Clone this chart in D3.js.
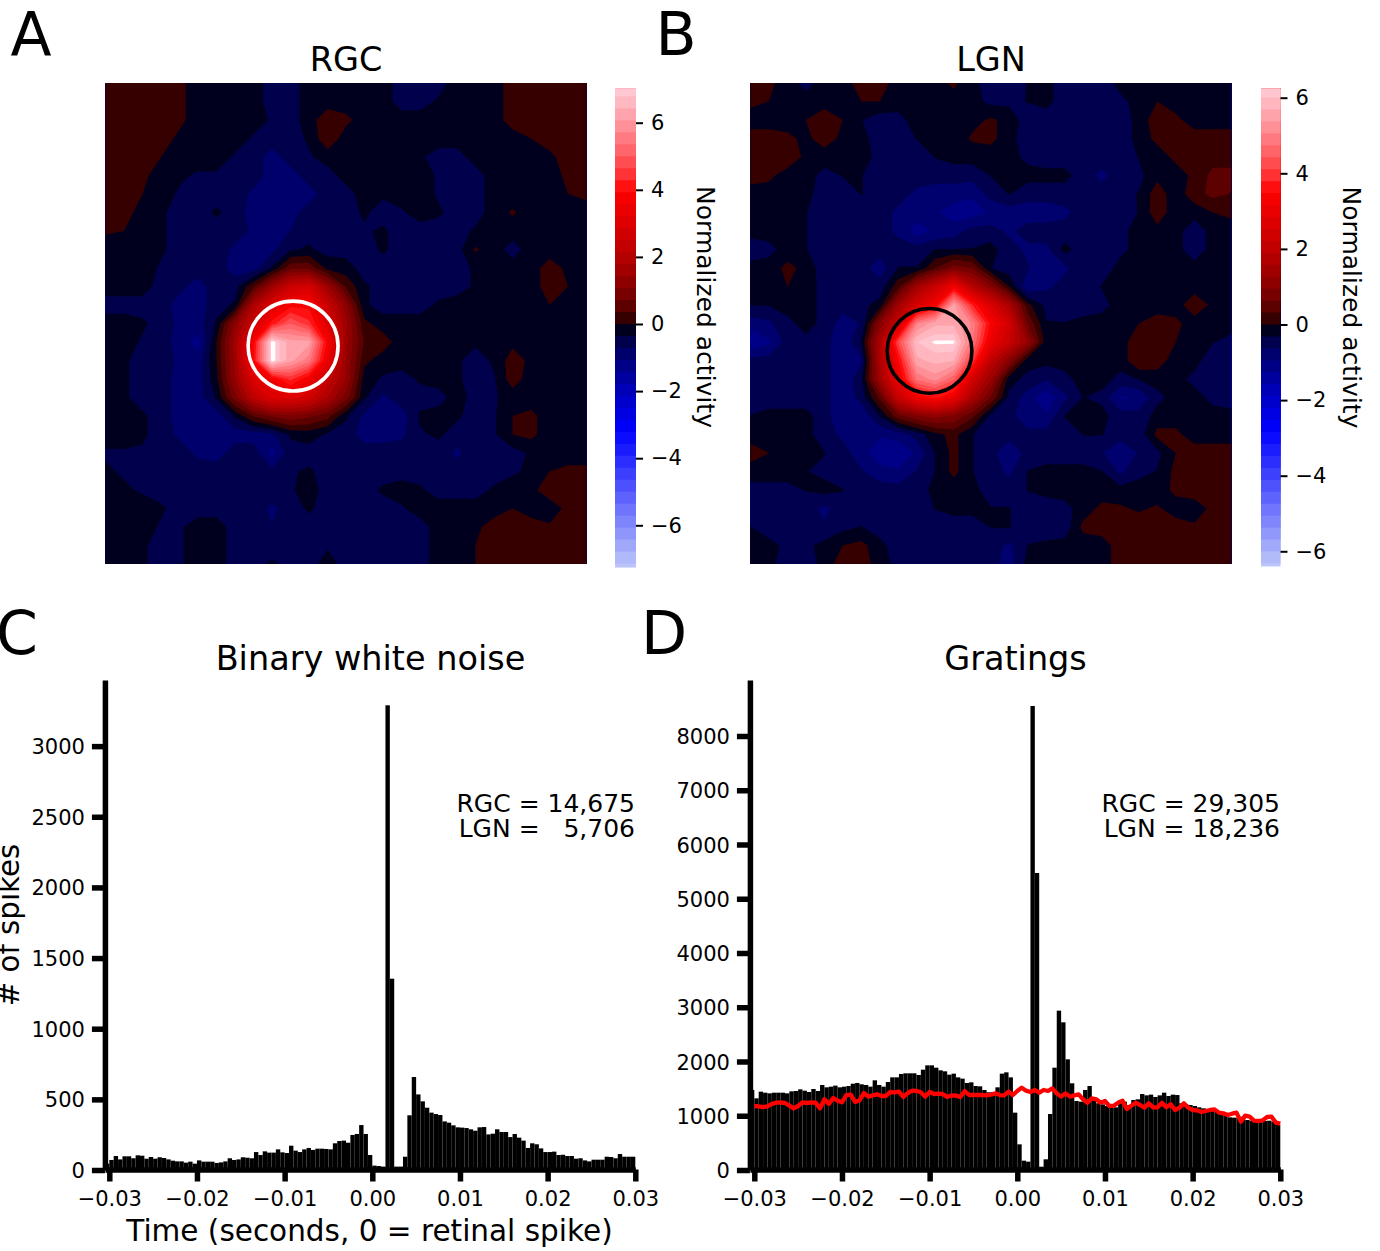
<!DOCTYPE html>
<html><head><meta charset="utf-8">
<script src="https://cdn.jsdelivr.net/npm/d3@7"></script>
<style>
html,body{margin:0;padding:0;background:#fff}
svg{display:block}
text{font-family:"DejaVu Sans",sans-serif;fill:#000}
</style></head><body><svg id="c" width="1380" height="1251"></svg>
<script>
// Activity maps: values in tenths of a normalized-activity unit
const rgcMap=[
[2,2,2,2,1,-2,-2,-2,-2,-5,-5,-2,-2,-2,-2,-2,-5,-5,-5,-2,-2,-2,2,2,2,2,2],
[2,2,2,2,1,-2,-2,-2,-2,-5,-5,-2,-2,-2,-2,-2,-5,-5,-3,-2,-2,-2,2,2,2,2,2],
[2,2,2,2,1,-2,-2,-2,-2,-4,-5,-2,3,1,-2,-2,-2,-2,-2,-2,-2,-2,2,2,2,2,2],
[2,2,2,2,-1,-2,-2,-2,-4,-5,-5,-3,3,-2,-2,-2,-2,-2,-2,-2,-2,-2,-2,0,2,2,2],
[2,2,2,0,-2,-2,-2,-4,-5,-9,-5,-4,-2,-2,-3,-2,-2,-3,-5,-5,-2,-2,-2,-2,-1,2,2],
[2,2,1,-2,-3,-4,-4,-5,-5,-9,-9,-5,-5,-2,-2,-2,-2,-2,-4,-5,-5,-2,-2,-2,-2,1,2],
[2,2,0,-2,-4,-5,-5,-5,-8,-9,-9,-9,-5,-5,-2,-3,-2,-2,-4,-5,-5,-2,-2,-2,-2,0,1],
[2,2,-2,-3,-5,-5,-3,-5,-9,-9,-9,-5,-5,-5,-3,-5,-4,-2,-3,-5,-5,-2,.5,-2,-2,-2,-2],
[.5,0,-2,-3,-5,-5,-5,-5,-8,-9,-7,-5,-5,-5,-4,-3,-5,-5,-5,-5,-3,-2,-2,-2,-2,-2,-2],
[-2,-2,-2,-3,-5,-5,-5,-8,-9,-8,-4,-3,-5,-5,-5,-3,-5,-5,-5,-5,.5,-2,-5,-2,-2,-2,-2],
[-2,-2,-2,-4,-5,-5,-5,-9,-9,-3,6,6,-1,-2,-5,-5,-5,-5,-5,-5,-3,-2,-2,-2,2,-1,-2],
[-2,-2,-2,-5,-6,-9,-5,-5,3,15,25,28,15,3,-3,-5,-5,-5,-5,-5,-3,-2,-2,-2,2,0,-2],
[-5,-5,-5,-5,-9,-9,-5,-3,18,30,38,38,25,12,-3,-5,-5,-5,-3,-2,-2,-2,-2,-2,0,-2,-2],
[-2,-2,-3,-5,-8,-9,-3,12,25,41,50,44,30,15,1,-2,-2,-2,-2,-2,-2,-2,-2,-2,-2,-2,-2],
[-2,-2,-4,-5,-9,-12,0,16,38,72,62,62,38,15,3,2,-2,-2,-2,-2,-3,-2,-1,-2,-2,-2,-2],
[-2,-3,-5,-5,-8,-9,0,15,39,72,62,55,34,14,1,-2,-2,-2,-2,-3,-5,-3,2,-1,-2,-2,-2],
[-2,-3,-5,-5,-9,-9,-1,14,30,36,44,36,24,14,-2,-4,-5,-3,-2,-3,-5,-4,2,-2,-2,-2,-2],
[-2,-3,-5,-5,-9,-9,-3,9,22,30,30,27,18,9,-3,-8,-5,-5,-5,-2,-5,-4,-2,-2,-2,-2,-2],
[-2,-2,-3,-5,-9,-9,-9,-3,4,8,10,8,5,-3,-8,-9,-9,-3,-2,-3,-5,-4,0,1,-2,-2,-2],
[-2,-2,-3,-5,-8,-9,-9,-9,-9,-8,-3,-2,-4,-5,-9,-9,-8,-4,-3,-5,-5,-4,0,1,-2,-2,-2],
[-4,-4,-4,-5,-5,-8,-9,-5,-5,-12,-5,-5,-5,-5,-5,-5,-5,-5,-5,-8,-5,-5,-5,-3,-2,-2,-2],
[-3,-4,-5,-5,-5,-5,-5,-5,-5,-6,-4,-3,-5,-5,-5,-5,-5,-5,-5,-5,-5,-5,-4,-3,0,1,1],
[-2,-3,-4,-5,-5,-5,-5,-5,-5,-5,-4,-2,-5,-5,-5,-3,-2,-3,-5,-5,-5,-3,-2,-1,2,2,2],
[-2,-2,-2,-3,-5,-5,-5,-5,-5,-8,-5,-3,-5,-5,-5,-5,-4,-2,-2,-2,-2,-2,0,-2,-2,1,2],
[-2,-2,-2,-4,-4,-2,-2,-5,-5,-7,-5,-5,-5,-5,-5,-5,-5,-5,-2,-2,-1,2,2,2,.5,2,2],
[-2,-2,-3,-5,-4,-2,-2,-5,-5,-5,-5,-5,-4,-5,-5,-5,-5,-5,-2,-2,0,2,2,2,2,2,2],
[-2,-2,-3,-5,-4,-2,-2,-5,-5,-3,-5,-5,-2,-5,-5,-5,-5,-5,-2,-2,0,2,2,2,2,2,2]];
const lgnMap=[
[2,1,-2,-4,-2,-2,2,2,-2,-2,-1,.5,-2,-5,-5,-3,-2,-5,-5,-5,-2,-2,-2,-2,-2,-2,-2],
[1,0,-2,-2,-2,-2,0,0,-2,-2,-2,-1,-2,-4,-4,-3,-2,-5,-5,-5,-4,-2,0,-2,-2,-2,-2],
[-2,-2,-2,0,3,0,-3,-5,-4,-2,-2,-2,-1,.5,-1,-5,-5,-5,-5,-5,-5,-2,2,1,-2,-2,-2],
[2,2,1,-1,2,-1,-2,-5,-5,-3,-2,-2,.5,1,-2,-5,-5,-5,-5,-5,-5,-2,1,2,2,2,2],
[2,2,3,-1,-2,-2,-2,-4,-5,-5,-3,-2,-2,-2,-2,-4,-5,-5,-5,-5,-5,-3,-2,1,2,2,2],
[2,1,-2,-2,-4,-3,-3,-5,-5,-5,-5,-5,-5,-3,-2,-2,-2,-2,-5,-7,-5,-4,-1,-2,1,4,4],
[-2,-2,-2,-2,-5,-5,-3,-5,-5,-7,-8,-8,-9,-5,-3,-5,-5,-5,-5,-5,-4,-3,2,-2,2,4,3],
[-2,-2,-2,-3,-5,-5,-5,-5,-7,-8,-9,-11,-11,-9,-8,-8,-8,-7,-5,-5,-5,-3,2,-2,-2,0,1],
[-2,-2,-2,-3,-5,-5,-5,-5,-7,-11,-9,-8,-5,-5,-7,-5,-5,-5,-5,-5,-4,-2,-1,-2,-5,-2,-2],
[-5,-4,-2,-3,-5,-5,-5,-5,-5,-5,-3,-3,-3,-2,-5,-7,-7,-2,-5,-5,-4,-2,-2,-2,-5,-2,-2],
[-2,-2,1,-1,-5,-5,-5,-8,-3,-3,3,8,6,-3,-5,-6,-9,-7,-4,-5,-2,-2,-2,-2,-2,-2,-2],
[-3,-3,0,-2,-4,-5,-5,-5,2,14,22,32,18,10,0,-9,-7,-5,-4,-3,-2,-2,-2,-2,-2,-2,-2],
[-3,-3,-2,-2,-4,-5,-4,-2,14,25,33,55,38,26,16,1,-4,-5,-5,-4,-2,-2,-2,-2,3,-1,-2],
[-8,-7,-4,-2,-4,-8,-6,10,22,50,56,56,50,34,24,6,-3,-3,-2,-2,-2,0,2,1,-2,-2,-2],
[-13,-10,-5,-4,-5,-9,-3,16,42,60,63,63,48,30,22,12,-2,-2,-2,-2,-2,3,3,0,-2,-3,-4],
[-5,-5,-5,-5,-5,-9,-7,16,34,56,58,57,40,20,10,-2,-2,-2,-2,-2,-2,3,2,-2,-2,-5,-5],
[-5,-5,-5,-5,-5,-9,-4,14,30,48,52,45,24,13,-2,-4,-6,-4,-2,-2,-4,-3,-2,-2,-4,-5,-5],
[-5,-5,-5,-5,-5,-9,-5,4,22,32,36,30,16,6,-4,-8,-12,-7,-3,-4,-10,-9,-4,-2,-2,-4,-5],
[-3,-2,-2,-2,-5,-9,-9,-3,5,9,11,9,4,-4,-5,-9,-9,-3,-2,-2,-5,-5,-2,-2,-2,-2,-2],
[-2,-2,-2,-2,-5,-7,-9,-9,-8,-5,-1,1,-3,-5,-5,-5,-5,-5,-3,-3,-5,-5,1,1,-2,-2,-2],
[2,0,-2,-2,-3,-5,-8,-12,-12,-9,-3,1,-3,-5,-9,-5,-5,-5,-5,-6,-9,-6,-4,0,2,2,2],
[-2,-2,-2,-3,-4,-5,-6,-8,-9,-6,-3,1,-3,-5,-7,-3,-2,-2,-2,-3,-7,-4,-3,1,2,2,2],
[-4,-4,-4,-3,-2,-3,-5,-5,-5,-5,-2,-2,-2,-5,-5,-3,-2,-2,-2,-2,-2,-2,-2,1,2,2,2],
[-5,-5,-5,-5,-7,-5,-5,-5,-5,-5,-3,-2,-2,-3,-3,-5,-5,-4,-2,1,.5,-.5,.5,-2,-2,1,2],
[-3,-5,-5,-5,-6,-4,-3,-5,-5,-5,-5,-5,-5,-3,-3,-5,-6,-5,1,2,2,2,2,2,.5,2,2],
[-2,-2,-4,-4,-2,0,1,-2,-5,-5,-5,-5,-5,-5,-7,-3,-2,-2,-2,-2,2,2,2,2,2,2,2],
[-2,-2,-5,-5,-2,2,2,-2,-4,-5,-5,-5,-5,-5,-8,-2,-2,-2,-2,-2,2,2,2,2,2,2,2]];
const rgcRange=[-7.26,7.02], lgnRange=[-6.40,6.24];
const rgcRing=[10.14,14.22,2.43], lgnRing=[9.69,14.48,2.29];
const cbarTicks=[-6,-4,-2,0,2,4,6];

// Histogram counts: bins of 0.0005 s from -0.0305 to 0.03
const binStart=-0.0305, binWidth=0.0005;
const noiseCounts=[45,
71,99,75,97,97,83,104,101,80,92,80,90,85,75,66,61,61,52,59,45,
68,59,59,59,50,54,61,83,71,75,90,87,83,127,106,132,123,123,146,125,
120,172,137,127,146,156,142,151,151,149,146,189,205,208,193,248,255,318,255,106,
31,28,24,3289,1354,24,24,94,387,658,535,486,441,406,396,389,344,335,316,302,
300,297,288,278,302,304,252,257,288,269,269,233,255,229,208,156,189,182,153,127,
127,130,106,108,99,99,80,83,68,61,73,73,73,94,92,83,113,94,94,94];
const gratingCounts=[1475,
1321,1444,1425,1413,1425,1425,1425,1413,1450,1456,1487,1462,1438,1493,1456,1567,1524,1536,1555,1524,
1536,1548,1591,1604,1579,1567,1536,1653,1567,1536,1622,1708,1708,1770,1782,1782,1782,1751,1849,1929,
1929,1886,1837,1819,1757,1776,1708,1684,1604,1616,1548,1542,1475,1432,1432,1524,1776,1800,1708,1057,
473,172,154,8553,5475,61,197,1032,1886,2937,2722,2040,1598,1272,1260,1475,1548,1340,1230,1210,
1180,1167,1155,1230,1260,1198,1290,1303,1400,1376,1389,1346,1376,1425,1364,1389,1382,1230,1216,1198,
1180,1155,1137,1124,1106,1075,1032,1014,971,965,965,983,922,909,922,891,903,909,891,842];
const gratingLine=[1180,1174,1161,1174,1217,1241,1247,1235,1186,1137,1180,1247,1235,1247,1241,1137,1303,1217,1327,1278,
1247,1382,1389,1253,1284,1419,1352,1376,1395,1364,1364,1438,1432,1444,1346,1419,1462,1456,1432,1352,
1438,1401,1407,1401,1346,1376,1370,1346,1456,1382,1382,1382,1382,1376,1389,1413,1382,1376,1444,1382,
1456,1518,1462,1438,1475,1425,1475,1456,1505,1413,1352,1413,1352,1376,1395,1303,1241,1321,1303,1241,
1272,1180,1186,1241,1278,1124,1186,1241,1198,1149,1229,1155,1155,1241,1155,1210,1106,1149,1229,1149,
1106,1100,1069,1088,1106,1118,1057,1045,1014,1038,1057,891,1002,983,909,903,916,977,983,873,855];
const xTicks=[-0.03,-0.02,-0.01,0,0.01,0.02,0.03];
const noiseTicks=[0,500,1000,1500,2000,2500,3000];
const gratingTicks=[0,1000,2000,3000,4000,5000,6000,7000,8000];

const svg=d3.select("#c");
const blueRamp=d3.scaleLinear().domain([0,.057,.17,.284,.63,1]).range([20,30,78,110,185,255]);

function bandColor(v,range){
  if(v>=0){
    const f=v/range[1], k=0.57;
    if(f<k) return d3.rgb(255*Math.pow(f/k,0.5),0,0)+"";
    const g=Math.pow((f-k)/(1-k),0.75);
    return d3.rgb(255,205*g,215*g)+"";
  }
  const f=-v/(-range[0]), k=0.437;
  if(f<k) return d3.rgb(0,0,blueRamp(f/k))+"";
  const g=(f-k)/(1-k);
  return d3.rgb(190*g,200*g,255-5*g)+"";
}
function levelsFor(range){
  const step=(range[1]-range[0])/40, out=[range[0]];
  for(let k=-30;k<=30;k++){const t=k*step; if(t>range[0]&&t<range[1]) out.push(t);}
  out.push(range[1]);
  return out;
}
function drawMap(id,grid,range,ring,ringColor,px,py,size,cbX,cbW,labelX,zeroY,pxPerUnit){
  const n=grid.length, flat=grid.flat().map(d=>d/10);
  const levels=levelsFor(range);
  const x=d3.scaleLinear().domain([0.5,n-0.5]).range([px,px+size]);
  const y=d3.scaleLinear().domain([0.5,n-0.5]).range([py,py+size]);
  const clip="clip"+id;
  svg.append("clipPath").attr("id",clip).append("rect").attr("x",px).attr("y",py).attr("width",size).attr("height",size);
  const g=svg.append("g").attr("clip-path",`url(#${clip})`);
  const path=d3.geoPath(d3.geoTransform({point(a,b){this.stream.point(x(a),y(b));}}));
  g.append("rect").attr("x",px).attr("y",py).attr("width",size).attr("height",size)
    .attr("fill",bandColor((levels[0]+levels[1])/2,range));
  const contours=d3.contours().size([n,n]).smooth(true).thresholds(levels.slice(1))(flat);
  g.selectAll("path").data(contours).join("path")
    .attr("d",path)
    .attr("fill",(d,i)=> i===contours.length-1 ? "#fff" : bandColor((levels[i+1]+levels[i+2])/2,range));
  svg.append("circle").attr("cx",x(ring[0]+.5)).attr("cy",y(ring[1]+.5)).attr("r",ring[2]*(size/(n-1)))
    .attr("fill","none").attr("stroke",ringColor).attr("stroke-width",3.6);
  // colour bar
  const cy=d3.scaleLinear().domain([0,1]).range([zeroY,zeroY-pxPerUnit]);
  const cb=svg.append("g");
  levels.slice(0,-1).forEach((t,i)=>{
    cb.append("rect").attr("x",cbX).attr("width",cbW)
      .attr("y",cy(range[1])).attr("height",cy(t)-cy(range[1]))
      .attr("fill",bandColor((t+levels[i+1])/2,range));
  });
  const ax=svg.append("g").attr("transform",`translate(${cbX+cbW},0)`)
    .call(d3.axisRight(cy).tickValues(cbarTicks).tickSize(7).tickPadding(8).tickFormat(d3.format("d")));
  ax.select(".domain").remove();
  ax.selectAll("line").attr("stroke-width",2);
  ax.selectAll("text").attr("font-size",21).style("font-family",'"DejaVu Sans"');
  svg.append("text").attr("transform",`translate(${labelX},${zeroY-17}) rotate(90)`)
    .attr("text-anchor","middle").attr("dominant-baseline","middle").attr("font-size",25).text("Normalized activity");
}
drawMap("a",rgcMap,rgcRange,rgcRing,"#fff",105.5,83,481,615,21,704,324,33.55);
drawMap("b",lgnMap,lgnRange,lgnRing,"#000",750.3,83,481,1261,19.5,1350,324.5,37.8);

function drawHist(counts,ticks,line,x0,x1,yMax){
  const x=d3.scaleLinear().domain([-0.03,0.03]).range([x0,x1]);
  const y=d3.scaleLinear().domain([0,yMax]).range([1170,680]);
  svg.append("g").selectAll("rect").data(counts).join("rect")
    .attr("x",(d,i)=>x(binStart+i*binWidth)).attr("width",x(binWidth)-x(0))
    .attr("y",d=>y(d)).attr("height",d=>y(0)-y(d)).attr("fill","#000");
  if(line){
    svg.append("path").datum(line)
      .attr("d",d3.line().x((d,i)=>x(-0.03+i*binWidth)).y(d=>y(d)))
      .attr("fill","none").attr("stroke","#f00").attr("stroke-width",4.3).attr("stroke-linejoin","round");
  }
  const left=x(binStart);
  const xa=svg.append("g").attr("transform","translate(0,1169.5)")
    .call(d3.axisBottom(d3.scaleLinear().domain([binStart,0.03]).range([left,x1])).tickValues(xTicks).tickSize(12).tickPadding(9.5).tickSizeOuter(0).tickFormat(d3.format(".2f")));
  const ya=svg.append("g").attr("transform",`translate(${left},0)`)
    .call(d3.axisLeft(y).tickValues(ticks).tickSize(13).tickPadding(7).tickSizeOuter(0).tickFormat(d3.format("d")));
  ya.selectAll("text").attr("dy","0.36em");
  [xa,ya].forEach(a=>{
    a.select(".domain").attr("stroke-width",5.5);
    a.selectAll("line").attr("stroke-width",5.5);
    a.selectAll("text").attr("font-size",21).style("font-family",'"DejaVu Sans"');
  });
}
drawHist(noiseCounts,noiseTicks,null,109.3,635.3,3468);
drawHist(gratingCounts,gratingTicks,gratingLine,754.3,1280.3,9032);

function label(x,y,t,size,anchor){
  return svg.append("text").attr("x",x).attr("y",y).attr("font-size",size)
    .attr("text-anchor",anchor||"middle").attr("xml:space","preserve").style("white-space","pre").text(t);
}
label(346,71,"RGC",33.5); label(991,71,"LGN",33.5);
label(370.5,670,"Binary white noise",33.5); label(1015.5,670,"Gratings",33.5);
label(31,55,"A",60); label(676,55,"B",60); label(17,654,"C",60); label(664,654,"D",60);
label(369.5,1241,"Time (seconds, 0 = retinal spike)",29.5);
svg.append("text").attr("transform","translate(19,925) rotate(-90)").attr("text-anchor","middle").attr("font-size",29.3).text("# of spikes");
label(635,812,"RGC = 14,675",25,"end"); label(635,837,"LGN =   5,706",25,"end");
label(1280,812,"RGC = 29,305",25,"end"); label(1280,837,"LGN = 18,236",25,"end");
</script></body></html>
